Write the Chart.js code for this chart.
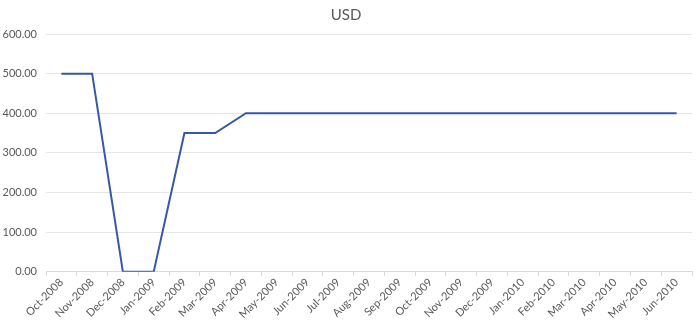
<!DOCTYPE html>
<html>
<head>
<meta charset="utf-8">
<script src="https://cdn.jsdelivr.net/npm/chart.js@4"></script>
<style>
  html, body { margin: 0; padding: 0; background: #fff; }
  #wrap { width: 700px; height: 326px; }
</style>
</head>
<body>
<div id="wrap"><canvas id="main-graph"></canvas></div>
<script>
const months = [
  "Oct-2008", "Nov-2008", "Dec-2008", "Jan-2009", "Feb-2009", "Mar-2009",
  "Apr-2009", "May-2009", "Jun-2009", "Jul-2009", "Aug-2009", "Sep-2009",
  "Oct-2009", "Nov-2009", "Dec-2009", "Jan-2010", "Feb-2010", "Mar-2010",
  "Apr-2010", "May-2010", "Jun-2010",
];
const usd = [
  500, 500, 0, 0, 350, 350, 400, 400, 400, 400, 400, 400,
  400, 400, 400, 400, 400, 400, 400, 400, 400,
];
const yMin = 0;
const yMax = 600;
const yStep = 100;

const ctx = document.getElementById("main-graph");

new Chart(ctx, {
  type: "line",
  data: {
    labels: months,
    datasets: [
      {
        label: "USD",
        data: usd,
        borderWidth: 2,
        borderColor: "#3558a8",
        backgroundColor: "#3558a8",
        pointRadius: 0,
        tension: 0,
      },
    ],
  },
  options: {
    animation: false,
    maintainAspectRatio: false,
    layout: {
      padding: { left: 0, right: 8, top: 4, bottom: 5 },
    },
    scales: {
      x: {
        offset: true,
        grid: {
          display: true,
          drawOnChartArea: false,
          drawTicks: true,
          tickLength: 4,
          offset: true,
          color: "#d9d9d9",
        },
        border: { color: "#d9d9d9" },
        ticks: {
          maxRotation: 45,
          minRotation: 45,
          autoSkip: false,
          color: "#595959",
          font: { family: "Lato", size: 11 },
          padding: 0,
        },
      },
      y: {
        min: yMin,
        max: yMax,
        afterFit: (scale) => {
          scale.width = 46;
        },
        ticks: {
          stepSize: yStep,
          color: "#595959",
          font: { family: "Lato", size: 11 },
          padding: 9,
          callback: (v) => v.toFixed(2),
        },
        grid: { color: "#e6e6e6", drawTicks: false },
        border: { display: false },
      },
    },
    plugins: {
      legend: { display: false },
      tooltip: { enabled: false },
      title: {
        display: true,
        text: "USD",
        color: "#595959",
        font: { family: "Lato", size: 15, weight: "normal" },
        padding: { top: 2, bottom: 10 },
      },
    },
  },
});
</script>
</body>
</html>
